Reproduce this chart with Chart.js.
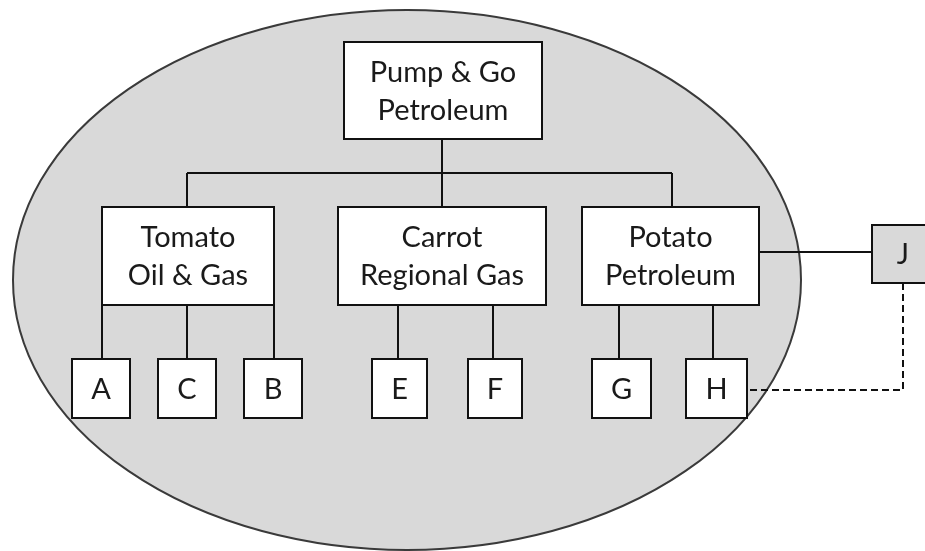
<!DOCTYPE html>
<html lang="en">
	<head>
		<meta charset="utf-8" />
		<title>Pump &amp; Go Petroleum</title>
		<style>
			body { margin: 0; background: #ffffff; }
			#wrap { width: 925px; height: 551px; }
		</style>
	</head>
	<body>
		<div id="wrap"><canvas id="orgchart"></canvas></div>

		<script src="https://cdn.jsdelivr.net/npm/chart.js"></script>
		<script>
			// boxes of the org chart (diagram units, y grows downward)
			const boxLabels = ["Pump & Go\nPetroleum", "Tomato\nOil & Gas", "Carrot\nRegional Gas", "Potato\nPetroleum",
				"A", "C", "B", "E", "F", "G", "H", "J"];
			const boxLeft   = [344, 102, 338, 582,  72, 158, 244, 372, 468, 592, 686, 872];
			const boxTop    = [ 42, 207, 207, 207, 359, 359, 359, 359, 359, 359, 359, 225];
			const boxRight  = [542, 274, 546, 759, 130, 216, 302, 427, 522, 651, 747, 935];
			const boxBottom = [139, 305, 305, 305, 418, 418, 418, 418, 418, 418, 418, 283];
			const outsideBox = ["J"];

			// connector paths, each is a list of [x, y]
			const solidPaths = [
				[[442, 139], [442, 207]],
				[[187, 173], [672, 173]],
				[[187, 173], [187, 207]],
				[[672, 173], [672, 207]],
				[[102, 305], [102, 359]],
				[[187, 305], [187, 359]],
				[[274, 305], [274, 359]],
				[[398, 305], [398, 359]],
				[[493, 305], [493, 359]],
				[[619, 305], [619, 359]],
				[[713, 305], [713, 359]],
				[[759, 252], [872, 252]]
			];
			const dashedPaths = [
				[[903, 283], [903, 390], [747, 390]]
			];

			// the group ellipse: centre and radii
			const groupCentre = [407, 280];
			const groupRadius = [394, 270];

			var datasets = [];
			solidPaths.forEach(function (p) {
				datasets.push({
					data: p.map(function (pt) { return { x: pt[0], y: pt[1] }; }),
					showLine: true,
					borderColor: "#111111",
					borderWidth: 2,
					pointRadius: 0
				});
			});
			dashedPaths.forEach(function (p) {
				datasets.push({
					data: p.map(function (pt) { return { x: pt[0], y: pt[1] }; }),
					showLine: true,
					borderColor: "#111111",
					borderWidth: 2,
					borderDash: [7, 4],
					pointRadius: 0
				});
			});

			var diagramPlugin = {
				id: "diagram",
				beforeDatasetsDraw: function (chart) {
					var ctx = chart.ctx;
					var xs = chart.scales.x, ys = chart.scales.y;
					var cx = xs.getPixelForValue(groupCentre[0]);
					var cy = ys.getPixelForValue(groupCentre[1]);
					var rx = xs.getPixelForValue(groupCentre[0] + groupRadius[0]) - cx;
					var ry = ys.getPixelForValue(groupCentre[1] + groupRadius[1]) - cy;
					ctx.save();
					ctx.beginPath();
					ctx.ellipse(cx, cy, Math.abs(rx), Math.abs(ry), 0, 0, Math.PI * 2);
					ctx.fillStyle = "#d9d9d9";
					ctx.fill();
					ctx.lineWidth = 2;
					ctx.strokeStyle = "#3a3a3a";
					ctx.stroke();
					ctx.restore();
				},
				afterDatasetsDraw: function (chart) {
					var ctx = chart.ctx;
					var xs = chart.scales.x, ys = chart.scales.y;
					ctx.save();
					boxLabels.forEach(function (label, i) {
						var x1 = xs.getPixelForValue(boxLeft[i]);
						var x2 = xs.getPixelForValue(boxRight[i]);
						var y1 = ys.getPixelForValue(boxTop[i]);
						var y2 = ys.getPixelForValue(boxBottom[i]);
						ctx.fillStyle = outsideBox.indexOf(label) >= 0 ? "#d9d9d9" : "#ffffff";
						ctx.fillRect(x1, y1, x2 - x1, y2 - y1);
						ctx.lineWidth = 2;
						ctx.strokeStyle = "#111111";
						ctx.strokeRect(x1, y1, x2 - x1, y2 - y1);

						var lines = label.split("\n");
						var midX = (x1 + x2) / 2;
						if (label === "J") midX = xs.getPixelForValue(903);
						var midY = (y1 + y2) / 2;
						ctx.fillStyle = "#1a1a1a";
						ctx.font = "29px Lato";
						ctx.textAlign = "center";
						ctx.textBaseline = "alphabetic";
						lines.forEach(function (t, k) {
							var base = midY + 10 + (k - (lines.length - 1) / 2) * 38;
							ctx.fillText(t, midX, base);
						});
					});
					ctx.restore();
				}
			};

			new Chart(document.getElementById("orgchart"), {
				type: "scatter",
				data: { datasets: datasets },
				options: {
					responsive: true,
					maintainAspectRatio: false,
					animation: false,
					events: [],
					layout: { padding: 0 },
					plugins: { legend: { display: false }, tooltip: { enabled: false } },
					scales: {
						x: { type: "linear", min: 0, max: 925, display: false },
						y: { type: "linear", min: 0, max: 551, reverse: true, display: false }
					}
				},
				plugins: [diagramPlugin]
			});
		</script>
	</body>
</html>
